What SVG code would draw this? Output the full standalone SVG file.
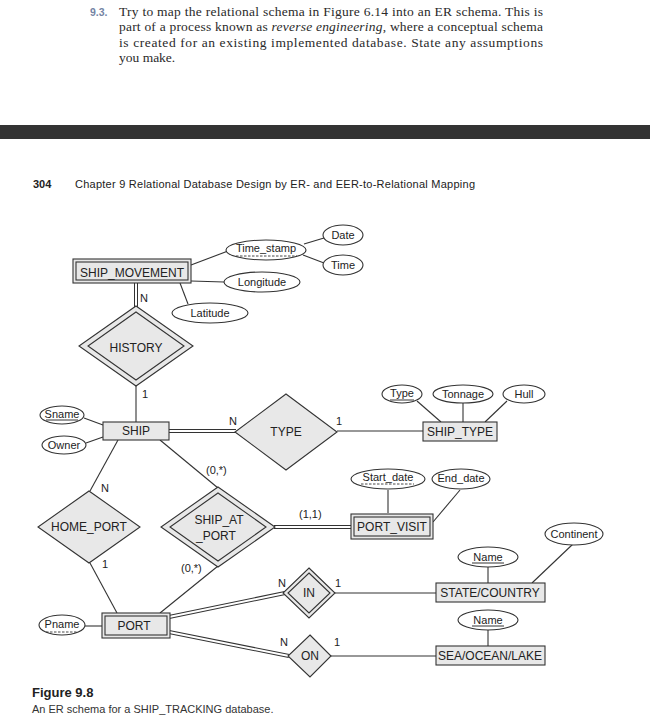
<svg xmlns="http://www.w3.org/2000/svg" width="650" height="727" viewBox="0 0 650 727">
<style>
.ser{font-family:"Liberation Serif","Times New Roman",serif;font-size:13.5px;fill:#2a2a2a}
.hd{font-family:"Liberation Sans",Arial,sans-serif;font-size:11px;fill:#222}
.ent{fill:#e8e8e8;stroke:#333;stroke-width:1.1}
.in{fill:none;stroke:#333;stroke-width:1.1}
.att{fill:#fff;stroke:#333;stroke-width:1.1}
.t{font-family:"Liberation Sans",Arial,sans-serif;font-size:12px;fill:#222;text-anchor:middle}
.a{font-family:"Liberation Sans",Arial,sans-serif;font-size:11px;fill:#222;text-anchor:middle}
.c{font-family:"Liberation Sans",Arial,sans-serif;font-size:11px;fill:#222}
.ln{stroke:#333;stroke-width:1.1;fill:none}
.dbo{stroke:#333;stroke-width:4;fill:none}
.dbi{stroke:#fff;stroke-width:2;fill:none}
.ul{stroke:#333;stroke-width:1}
.du{stroke:#333;stroke-width:0.9;stroke-dasharray:2.5,1.5}
</style>
<rect width="650" height="727" fill="#fff"/>
<g id="exercise">
<text x="90" y="16" font-family="Liberation Sans,Arial,sans-serif" font-size="10.5" font-weight="bold" fill="#7484a4">9.3.</text>
<text class="ser" x="119" y="16" textLength="424" lengthAdjust="spacing">Try to map the relational schema in Figure 6.14 into an ER schema. This is</text>
<text class="ser" x="119" y="31" textLength="424" lengthAdjust="spacing">part of a process known as <tspan font-style="italic">reverse engineering</tspan>, where a conceptual schema</text>
<text class="ser" x="119" y="46.5" textLength="424" lengthAdjust="spacing">is created for an existing implemented database. State any assumptions</text>
<text class="ser" x="119" y="62">you make.</text>
</g>
<rect x="0" y="125" width="650" height="14" fill="#333"/>
<g id="header">
<text class="hd" x="33" y="188" font-weight="bold">304</text>
<text class="hd" x="75" y="188" textLength="400" lengthAdjust="spacing">Chapter 9  Relational Database Design by ER- and EER-to-Relational Mapping</text>
</g>
<g id="connectors">
<line class="dbo" x1="136" y1="283" x2="136" y2="307"/><line class="dbi" x1="136" y1="283" x2="136" y2="307"/>
<line class="ln" x1="136" y1="385" x2="136" y2="422"/>
<line class="dbo" x1="169" y1="431" x2="236" y2="431"/><line class="dbi" x1="169" y1="431" x2="236" y2="431"/>
<line class="ln" x1="337" y1="431" x2="423" y2="431"/>
<line class="ln" x1="118" y1="440" x2="90" y2="491"/>
<line class="ln" x1="90" y1="563" x2="117" y2="613"/>
<line class="ln" x1="160" y1="440" x2="218" y2="488"/>
<line class="ln" x1="218" y1="566" x2="160" y2="613"/>
<line class="dbo" x1="274" y1="527" x2="352" y2="527"/><line class="dbi" x1="274" y1="527" x2="352" y2="527"/>
<line class="dbo" x1="169" y1="617" x2="285" y2="593"/><line class="dbi" x1="169" y1="617" x2="285" y2="593"/>
<line class="dbo" x1="169" y1="632" x2="289" y2="656"/><line class="dbi" x1="169" y1="632" x2="289" y2="656"/>
<line class="ln" x1="335" y1="593" x2="436" y2="593"/>
<line class="ln" x1="331" y1="656" x2="436" y2="656"/>
<line class="ln" x1="191" y1="265" x2="228" y2="251"/>
<line class="ln" x1="191" y1="281" x2="224" y2="282"/>
<line class="ln" x1="180" y1="283" x2="188" y2="304"/>
<line class="ln" x1="304" y1="244" x2="324" y2="238"/>
<line class="ln" x1="303" y1="255" x2="324" y2="263"/>
<line class="ln" x1="84" y1="418" x2="103" y2="425"/>
<line class="ln" x1="86" y1="443" x2="103" y2="437"/>
<line class="ln" x1="417" y1="401" x2="441" y2="422"/>
<line class="ln" x1="463" y1="403" x2="463" y2="422"/>
<line class="ln" x1="507" y1="401" x2="485" y2="422"/>
<line class="ln" x1="388" y1="490" x2="388" y2="513"/>
<line class="ln" x1="460" y1="490" x2="433" y2="522"/>
<line class="ln" x1="488" y1="567" x2="488" y2="583"/>
<line class="ln" x1="573" y1="544" x2="532" y2="583"/>
<line class="ln" x1="488" y1="630" x2="488" y2="646"/>
<line class="ln" x1="85" y1="626" x2="102" y2="626"/>
<text class="c" x="140" y="302">N</text>
<text class="c" x="142" y="398">1</text>
<text class="c" x="229" y="425">N</text>
<text class="c" x="336" y="425">1</text>
<text class="c" x="101" y="492">N</text>
<text class="c" x="102" y="568">1</text>
<text class="c" x="206" y="474">(0,*)</text>
<text class="c" x="181" y="572">(0,*)</text>
<text class="c" x="299" y="518">(1,1)</text>
<text class="c" x="278" y="587">N</text>
<text class="c" x="335" y="587">1</text>
<text class="c" x="280" y="646">N</text>
<text class="c" x="334" y="646">1</text>
</g>
<g id="ship_movement">
<rect class="ent" x="73" y="259" width="118" height="24"/>
<rect class="in" x="76" y="262" width="112" height="18"/>
<text class="t" x="132" y="277">SHIP_MOVEMENT</text>
</g>
<g id="time_stamp">
<ellipse class="att" cx="266" cy="250" rx="40" ry="10"/>
<text class="a" x="266" y="252">Time_stamp</text>
<line class="du" x1="236" y1="256" x2="297" y2="256"/>
</g>
<g id="date"><ellipse class="att" cx="343" cy="235" rx="20" ry="10"/><text class="a" x="343" y="239">Date</text></g>
<g id="time"><ellipse class="att" cx="343" cy="265" rx="20" ry="10"/><text class="a" x="343" y="269">Time</text></g>
<g id="longitude"><ellipse class="att" cx="262" cy="282" rx="38" ry="10"/><text class="a" x="262" y="286">Longitude</text></g>
<g id="latitude"><ellipse class="att" cx="210" cy="313" rx="38" ry="10"/><text class="a" x="210" y="317">Latitude</text></g>
<g id="history">
<polygon class="ent" points="136,306 193,346 136,386 79,346"/>
<polygon class="in" points="136,312 184,346 136,380 88,346"/>
<text class="t" x="136" y="352">HISTORY</text>
</g>
<g id="ship">
<rect class="ent" x="103" y="422" width="66" height="18"/>
<text class="t" x="136" y="435">SHIP</text>
</g>
<g id="sname"><ellipse class="att" cx="62" cy="415" rx="22" ry="9"/><text class="a" x="62" y="418">Sname</text><line class="ul" x1="46" y1="420" x2="78" y2="420"/></g>
<g id="owner"><ellipse class="att" cx="64" cy="445" rx="22" ry="9"/><text class="a" x="64" y="449">Owner</text></g>
<g id="type_rel">
<polygon class="ent" points="286,394 337,432 286,470 235,432"/>
<text class="t" x="286" y="436">TYPE</text>
</g>
<g id="ship_type">
<rect class="ent" x="423" y="422" width="74" height="19"/>
<text class="t" x="460" y="436">SHIP_TYPE</text>
</g>
<g id="type_attr"><ellipse class="att" cx="402" cy="394" rx="20" ry="9"/><text class="a" x="402" y="397">Type</text><line class="ul" x1="390" y1="400" x2="414" y2="400"/></g>
<g id="tonnage"><ellipse class="att" cx="463" cy="394" rx="30" ry="9"/><text class="a" x="463" y="398">Tonnage</text></g>
<g id="hull"><ellipse class="att" cx="524" cy="394" rx="21" ry="9"/><text class="a" x="524" y="398">Hull</text></g>
<g id="home_port">
<polygon class="ent" points="89,491 140,527 89,563 38,527"/>
<text class="t" x="89" y="531">HOME_PORT</text>
</g>
<g id="ship_at_port">
<polygon class="ent" points="218,487 275,527 218,567 161,527"/>
<polygon class="in" points="218,493 266,527 218,561 170,527"/>
<text class="t" x="219" y="524">SHIP_AT</text>
<text class="t" x="216" y="540">_PORT</text>
</g>
<g id="port_visit">
<rect class="ent" x="351" y="514" width="82" height="25"/>
<rect class="in" x="354" y="517" width="76" height="19"/>
<text class="t" x="392" y="531">PORT_VISIT</text>
</g>
<g id="start_date"><ellipse class="att" cx="388" cy="479" rx="37" ry="10"/><text class="a" x="388" y="481">Start_date</text><line class="du" x1="361" y1="484" x2="414" y2="484"/></g>
<g id="end_date"><ellipse class="att" cx="461" cy="479" rx="29" ry="10"/><text class="a" x="461" y="482">End_date</text></g>
<g id="state_country">
<rect class="ent" x="436" y="583" width="109" height="19"/>
<text class="t" x="490" y="597">STATE/COUNTRY</text>
</g>
<g id="name1"><ellipse class="att" cx="488" cy="557" rx="30" ry="10"/><text class="a" x="488" y="561">Name</text><line class="ul" x1="472" y1="563" x2="504" y2="563"/></g>
<g id="continent"><ellipse class="att" cx="574" cy="534" rx="29" ry="11"/><text class="a" x="574" y="538">Continent</text></g>
<g id="in_rel">
<polygon class="ent" points="309,568 335,593 309,618 283,593"/>
<polygon class="in" points="309,573 330,593 309,613 288,593"/>
<text class="t" x="309" y="597">IN</text>
</g>
<g id="on_rel">
<polygon class="ent" points="310,635 331,656 310,677 288,656"/>
<text class="t" x="310" y="660">ON</text>
</g>
<g id="sea_ocean_lake">
<rect class="ent" x="436" y="646" width="109" height="19"/>
<text class="t" x="490" y="660">SEA/OCEAN/LAKE</text>
</g>
<g id="name2"><ellipse class="att" cx="488" cy="620" rx="30" ry="10"/><text class="a" x="488" y="624">Name</text><line class="ul" x1="472" y1="626" x2="504" y2="626"/></g>
<g id="port">
<rect class="ent" x="102" y="613" width="68" height="25"/>
<rect class="in" x="105" y="616" width="62" height="19"/>
<text class="t" x="134" y="630">PORT</text>
</g>
<g id="pname"><ellipse class="att" cx="62" cy="625" rx="23" ry="10"/><text class="a" x="62" y="628">Pname</text><line class="du" x1="46" y1="632" x2="78" y2="632"/></g>
<g id="caption">
<text x="32" y="697" font-family="Liberation Sans,Arial,sans-serif" font-size="13" font-weight="bold" fill="#222">Figure 9.8</text>
<text x="32" y="713" font-family="Liberation Sans,Arial,sans-serif" font-size="11" fill="#333">An ER schema for a SHIP_TRACKING database.</text>
</g>
</svg>
